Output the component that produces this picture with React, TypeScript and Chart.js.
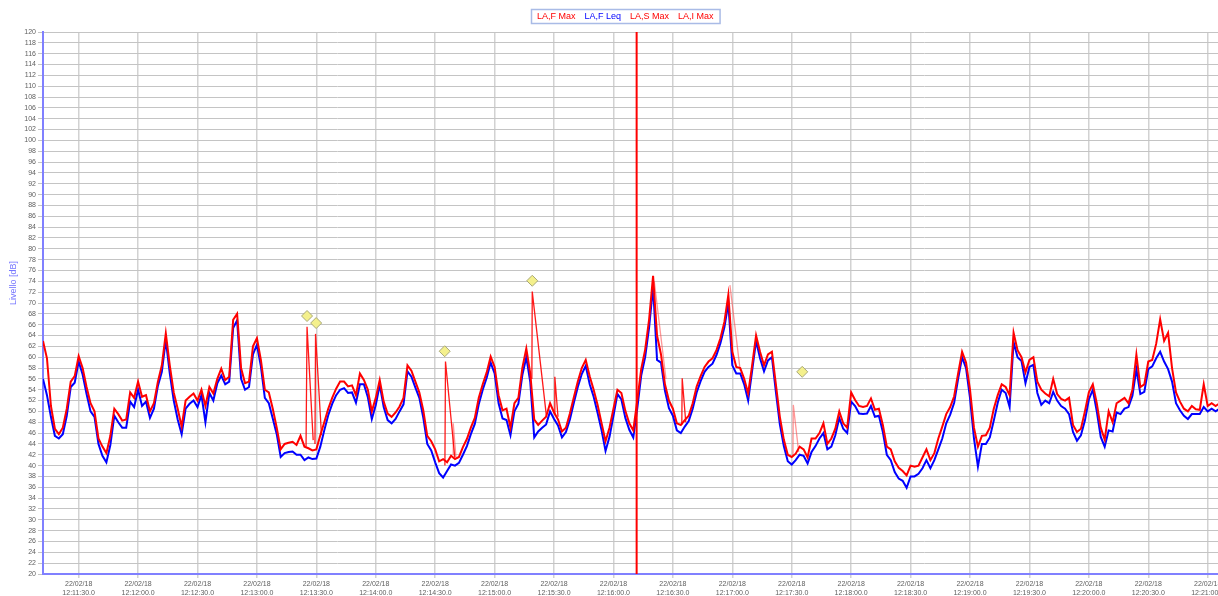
import React, { useEffect, useRef } from 'react';
import { Chart, registerables } from 'chart.js';
Chart.register(...registerables);

// seconds after 12:11:00, sampled every 2 s starting at 12 s
const sampleStart = 12;
const sampleStep = 2;

const laFMax = [
  63, 59.8, 51, 46.8, 45.8, 47, 50.5, 55.5, 56.5, 60.2,
  58, 54.5, 51.5, 50, 45, 43.5, 42.3, 45.5, 50.5, 49.5,
  48.3, 48.5, 53.5, 52.5, 55.5, 52.7, 53, 50, 51.5, 55.5,
  58.5, 64.4, 58.5, 53.5, 50.5, 47.2, 52, 52.7, 53.3, 52,
  54, 51, 54.5, 53.3, 56, 57.9, 55.8, 56.4, 66.9, 68,
  58, 55.2, 55.5, 62, 63.5, 59.5, 54, 53.5, 50.5, 47,
  43, 44, 44.2, 44.4, 43.8, 45.5, 43.5, 43.2, 42.8, 43,
  45.6, 48, 50.5, 52.5, 54.2, 55.5, 55.5, 54.6, 54.8, 53,
  57, 55.8, 54, 50, 52.5, 55.8, 51.8, 49.6, 49, 49.8,
  50.9, 52.5, 58.5, 57.5, 55.5, 53.5, 50.2, 45.5, 44.5, 43,
  40.8, 41.2, 40.6, 41.8, 41.2, 41.6, 43.4, 44.9, 47, 48.8,
  52.5, 55, 57.2, 60.1, 58.2, 53, 50.2, 50.5, 47, 51.5,
  52.5, 58, 61.6, 57, 48.5, 47.5, 48.3, 49, 51.5, 49.8,
  48.5, 46.3, 47, 49.6, 52.6, 55.5, 58, 59.5, 56.5, 54,
  51.2, 47.8, 44.5, 47, 50.5, 54, 53.4, 50.1, 47.8, 46.5,
  52, 57.8, 61.4, 67, 75, 64, 60.5, 55, 52, 50.5,
  47.8, 47.5, 48.4, 49.2, 51.5, 54.6, 56.5, 58.2, 59.2, 59.8,
  61.3, 63.5, 66.5, 71.5, 61, 58.2, 58, 56, 53.3, 58.5,
  64, 61, 58.5, 60.5, 61, 55, 49, 44.8, 42, 41.6,
  42.2, 43.5, 43, 41.5, 45, 45, 46, 47.8, 44, 45,
  46.8, 50, 47.8, 47, 53.5, 52.1, 51, 50.8, 51, 52.4,
  50.3, 50.5, 47.5, 43.5, 43, 40.8, 39.6, 39, 38.2, 40,
  39.8, 40, 41.5, 43, 41, 42.3, 45, 47.2, 49.5, 50.8,
  52.8, 57, 61, 59, 54, 47, 43.5, 45.5, 45.6, 47,
  50.5, 53, 55, 54.5, 53, 64.5, 61.3, 60, 57.2, 59.5,
  60, 55.5, 54, 53.3, 52.8, 56, 53.2, 52.3, 52, 52.5,
  47.5, 46.2, 46.8, 50, 53.5, 55, 51.5, 47, 44.8, 50,
  48, 51.5, 52, 52.5, 51.5, 54, 60.5, 54.5, 55, 59.2,
  59.5, 62.5, 67, 63, 64.5, 58, 53.5, 51.8, 50.5, 50,
  51, 50.4, 50.3, 55, 51, 51.5, 51, 51.5,
];

const laFLeq = [
  56, 53, 49, 45.5, 45, 45.8, 49.2, 54.5, 55.3, 59.2,
  56.8, 53.2, 50, 49, 44, 41.8, 40.6, 43.8, 49.2, 48,
  47, 47, 51.8, 50.8, 54, 51, 51.8, 48.8, 50.5, 54.7,
  57.3, 63.2, 57, 52, 48.5, 45.8, 50.5, 51.4, 52, 50.8,
  53, 48, 53.4, 52, 55.2, 56.6, 55, 55.5, 65.4, 66.8,
  56, 54, 54.5, 60.5, 62.3, 58.3, 52.5, 51.5, 48.7, 45.8,
  41.6, 42.3, 42.5, 42.6, 42, 42, 41, 41.5, 41.2, 41.3,
  43.5, 46.5, 49.3, 51.4, 53, 54, 54.3, 53.4, 53.5, 51.6,
  55, 55, 52.6, 48.6, 51.2, 54.9, 50.8, 48.4, 47.8, 48.6,
  50, 51.3, 57.4, 56.4, 54.4, 52.5, 48.8, 44, 42.8, 40.6,
  38.6, 37.8, 39, 40.2, 40, 40.5, 42, 43.6, 45.8, 47.7,
  51.3, 54, 56.2, 59, 57, 51.5, 48.7, 48.4, 45.6, 50,
  51.4, 56.7, 60, 55.4, 45.2, 46.3, 47, 47.6, 50, 48.6,
  47.4, 45.2, 46.2, 48.5, 51.6, 54.5, 56.9, 58.4, 55, 52.7,
  49.7, 46.5, 42.7, 45.3, 49.2, 53.2, 52.2, 48.8, 46.6, 45.2,
  50.5, 56.6, 60, 65.5, 73, 59.5, 59, 53.8, 50.6, 49.2,
  46.5, 46, 47.2, 48.2, 50.5, 53.5, 55.6, 57.3, 58.2, 58.8,
  60.4, 62.6, 65.5, 70, 58.5, 57, 57, 55, 52, 57.5,
  63, 59.8, 57.4, 59.4, 60, 53.6, 47.6, 43.6, 40.8, 40.2,
  41, 42, 41.8, 40.4, 42.5, 43.6, 45, 46, 43, 43.5,
  45.6, 48.8, 46.8, 46, 51.8, 51, 49.6, 49.5, 49.6, 51,
  49, 49.2, 46.2, 42, 41, 38.8, 37.6, 37.2, 35.9, 38,
  38, 38.5, 39.5, 41, 39.5, 41, 43, 45, 47.8, 49.4,
  51.6, 56, 60, 58, 52.5, 45, 39.8, 44, 44, 45.2,
  48.3, 51.6, 54, 53.4, 50.8, 62.8, 60, 59.3, 55.2, 58.2,
  58.6, 53.4, 51.2, 52, 51.5, 53.6, 52, 51, 50.5, 49.5,
  46.2, 44.6, 45.6, 48.3, 52.2, 54, 50, 45.3, 43.5, 46.5,
  46.3, 49.8, 49.5, 50.5, 50.8, 52.9, 57.8, 53.2, 53.6, 57.8,
  58.3, 59.8, 61, 59.2, 57.8, 55.5, 51.5, 50.2, 49.2, 48.6,
  49.5, 49.5, 49.5, 50.8, 50, 50.5, 50, 50.5,
];

// impulse peaks: time (s) / level (dB); null breaks the line
const laIMaxT = [
  144.8, 145.3, 148.4, null, 149.3, 149.6, 152.6, null,
  214.9, 215.2, 219.9, null, 258.8, 259.0, 266.2, null,
  270.2, 270.4, 272.0, null, 334.5, 334.7, 336.5, null,
  395.3, 395.5, 398.5, null, 450.3, 450.5, 452.5, null,
  457.4, 457.6, 459.5, null, 462.9, 463.1, 465.5, null,
  466.8, 467.0, 470.0, null, 490.9, 491.1, 492.5, null,
  563.9, 564.2, 566.5, null, 597.6, 597.8, 599.5,
];
const laIMaxV = [
  43.5, 65.6, 44.7, null, 44, 64.3, 45.6, null,
  40, 59.2, 41.5, null, 56, 72.1, 49, null,
  49.5, 56.4, 49, null, 47.5, 56.1, 48, null,
  43, 55.2, 42, null, 39.5, 50.3, 40, null,
  41, 48.4, 41, null, 42, 55.2, 46, null,
  46, 58.3, 50, null, 45, 51.5, 49, null,
  55, 62.6, 54, null, 50.5, 57.3, 51,
];

// slow peaks
const laSMaxT = [
  320.6, 326.5, null, 358.8, 364.0, null, 390.6, 390.8, 393.5, null,
  219.0, 219.1, 220.5, null, 576.0, 581.5,
];
const laSMaxV = [
  74, 56, null, 73.3, 57.5, null, 41.6, 51.2, 42.5, null,
  42, 47.8, 41.5, null, 67.2, 60,
];

// event markers
const eventT = [145.3, 149.9, 214.8, 259.0, 395.3];
const eventV = [67.6, 66.3, 61.1, 74.1, 57.3];

const cursorT = 311.7;

const seriesNames = ['LA,F Max', 'LA,F Leq', 'LA,S Max', 'LA,I Max'];
const seriesColors = ['#ff0000', '#0000ff', '#ff0000', '#ff0000'];

const xTickSecs = [30, 60, 90, 120, 150, 180, 210, 240, 270, 300, 330, 360, 390, 420, 450, 480, 510, 540, 570, 600];
const xTickDate = '22/02/18';
const xTickTimes = [
  '12:11:30.0', '12:12:00.0', '12:12:30.0', '12:13:00.0', '12:13:30.0',
  '12:14:00.0', '12:14:30.0', '12:15:00.0', '12:15:30.0', '12:16:00.0',
  '12:16:30.0', '12:17:00.0', '12:17:30.0', '12:18:00.0', '12:18:30.0',
  '12:19:00.0', '12:19:30.0', '12:20:00.0', '12:20:30.0', '12:21:00.0',
];
const yTitle = 'Livello [dB]';

const toXY = (vals: (number | null)[]) =>
  vals.map((v, i) => ({ x: sampleStart + i * sampleStep, y: v }));
const pairs = (ts: (number | null)[], vs: (number | null)[]) =>
  ts.map((t, i) => ({ x: t === null ? NaN : t, y: vs[i] }));

const FONT = '"Liberation Sans", Arial, sans-serif';

const legendPlugin = {
  id: 'boxLegend',
  afterDraw(chart: any) {
    const ctx = chart.ctx;
    ctx.save();
    ctx.font = '9px ' + FONT;
    ctx.textBaseline = 'middle';
    const gap = 9;
    const widths = seriesNames.map((s) => ctx.measureText(s).width);
    const total = widths.reduce((a, b) => a + b, 0) + gap * (seriesNames.length - 1);
    const left = 531;
    const pad = 5;
    const boxW = total + pad * 2 + 2;
    ctx.strokeStyle = '#a9bbe6';
    ctx.lineWidth = 1.5;
    ctx.strokeRect(left + 0.5, 9.5, Math.max(boxW, 187), 14);
    let x = left + pad + 1;
    seriesNames.forEach((s, i) => {
      ctx.fillStyle = seriesColors[i];
      ctx.fillText(s, x, 17);
      x += widths[i] + gap;
    });
    // axis title
    ctx.translate(14, 283);
    ctx.rotate(-Math.PI / 2);
    ctx.textAlign = 'center';
    ctx.fillStyle = '#7575ff';
    ctx.font = '9px ' + FONT;
    ctx.fillText(yTitle, 0, 0);
    ctx.restore();
  },
};

export default function App() {
  const ref = useRef<HTMLCanvasElement | null>(null);
  useEffect(() => {
    if (!ref.current) return;
    const tickFont = { family: FONT, size: 7 };
    const chart = new Chart(ref.current, {
      type: 'line',
      data: {
        datasets: [
          {
            label: 'cursor',
            data: [{ x: cursorT, y: 20 }, { x: cursorT, y: 120 }],
            borderColor: '#ff0000',
            borderWidth: 2,
            pointRadius: 0,
          },
          {
            label: 'events',
            data: pairs(eventT, eventV),
            showLine: false,
            pointStyle: 'rectRot',
            pointRadius: 5.5,
            backgroundColor: '#f4f08c',
            borderColor: '#a8a878',
            borderWidth: 1,
          },
          {
            label: seriesNames[3],
            data: pairs(laIMaxT, laIMaxV),
            borderColor: 'rgba(255,0,0,0.9)',
            borderWidth: 1.3,
            pointRadius: 0,
            spanGaps: false,
          },
          {
            label: seriesNames[0],
            data: toXY(laFMax),
            borderColor: seriesColors[0],
            borderWidth: 2,
            pointRadius: 0,
          },
          {
            label: seriesNames[2],
            data: pairs(laSMaxT, laSMaxV),
            borderColor: 'rgba(255,80,80,0.6)',
            borderWidth: 1.3,
            pointRadius: 0,
            spanGaps: false,
          },
          {
            label: seriesNames[1],
            data: toXY(laFLeq),
            borderColor: seriesColors[1],
            borderWidth: 2,
            pointRadius: 0,
          },
        ],
      },
      options: {
        animation: false,
        responsive: true,
        maintainAspectRatio: false,
        parsing: false as any,
        normalized: true,
        layout: { autoPadding: false, padding: { top: 32, left: 0, right: 0, bottom: 0 } },
        elements: { line: { tension: 0 } },
        plugins: { legend: { display: false }, tooltip: { enabled: false } },
        scales: {
          x: {
            type: 'linear',
            min: 12,
            max: 605.2,
            afterBuildTicks: (scale: any) => {
              scale.ticks = xTickSecs.map((v) => ({ value: v }));
            },
            afterFit: (scale: any) => {
              scale.height = 22;
              scale.paddingLeft = 0;
              scale.paddingRight = 0;
            },
            ticks: {
              autoSkip: false,
              maxRotation: 0,
              color: '#606060',
              font: tickFont,
              padding: 2,
              callback: (v: any) => {
                const i = xTickSecs.indexOf(Number(v));
                return i >= 0 ? [xTickDate, xTickTimes[i]] : '';
              },
            },
            grid: { color: '#d2d2d2', lineWidth: 1.5, tickLength: 4 },
            border: { color: '#8080ff', width: 2 },
          },
          y: {
            type: 'linear',
            min: 20,
            max: 120,
            afterFit: (scale: any) => {
              scale.width = 43;
              scale.paddingTop = 0;
              scale.paddingBottom = 0;
            },
            ticks: {
              stepSize: 2,
              autoSkip: false,
              color: '#606060',
              font: tickFont,
              padding: 2,
            },
            grid: { color: '#c4c4c4', lineWidth: 1, tickLength: 5 },
            border: { color: '#8080ff', width: 2 },
          },
        },
      },
      plugins: [legendPlugin],
    } as any);
    return () => chart.destroy();
  }, []);
  return (
    <div style={{ position: 'absolute', left: 0, top: 0, width: 1218, height: 596, background: '#fff' }}>
      <canvas ref={ref} />
    </div>
  );
}
